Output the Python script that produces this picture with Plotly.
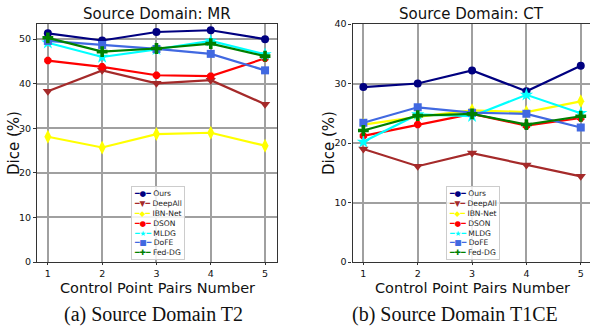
import plotly.graph_objects as go

x_vals = [1, 2, 3, 4, 5]
methods = ["Ours", "DeepAll", "IBN-Net", "DSON", "MLDG", "DoFE", "Fed-DG"]

mr_values = {
    "Ours":    [51.3, 49.7, 51.6, 52.0, 50.0],
    "DeepAll": [38.3, 43.0, 40.1, 40.8, 35.4],
    "IBN-Net": [28.1, 25.7, 28.7, 29.0, 26.1],
    "DSON":    [45.2, 43.8, 41.9, 41.7, 45.7],
    "MLDG":    [49.2, 46.0, 47.7, 49.6, 46.6],
    "DoFE":    [49.6, 48.7, 47.8, 46.7, 43.0],
    "Fed-DG":  [50.3, 47.2, 47.9, 49.0, 46.2],
}
ct_values = {
    "Ours":    [29.4, 30.0, 32.2, 28.7, 33.0],
    "DeepAll": [19.0, 16.1, 18.3, 16.3, 14.4],
    "IBN-Net": [23.1, 24.4, 25.5, 25.2, 27.0],
    "DSON":    [21.2, 23.1, 24.9, 22.9, 24.2],
    "MLDG":    [20.2, 24.8, 24.5, 28.1, 25.0],
    "DoFE":    [23.4, 26.0, 25.1, 24.9, 22.6],
    "Fed-DG":  [22.1, 24.6, 24.9, 23.1, 24.5],
}

colors = {
    "Ours": "#000080", "DeepAll": "#A52A2A", "IBN-Net": "#FFFF00", "DSON": "#FF0000",
    "MLDG": "#00FFFF", "DoFE": "#4169E1", "Fed-DG": "#008000",
}
symbols = {
    "Ours": "circle", "DeepAll": "triangle-down", "IBN-Net": "diamond-tall", "DSON": "octagon",
    "MLDG": "star", "DoFE": "square", "Fed-DG": "cross",
}
glyphs = {
    "Ours": "●", "DeepAll": "▼", "IBN-Net": "◆", "DSON": "●",
    "MLDG": "★", "DoFE": "■", "Fed-DG": "✚",
}
msize = {"Ours": 8, "DeepAll": 9, "IBN-Net": 10, "DSON": 8, "MLDG": 10, "DoFE": 8, "Fed-DG": 9}

FONT = "DejaVu Sans"
fig = go.Figure()

for m in methods:
    for vals, xa, ya in [(mr_values, "x", "y"), (ct_values, "x2", "y2")]:
        fig.add_trace(go.Scatter(
            x=x_vals, y=vals[m], mode="lines+markers", name=m,
            xaxis=xa, yaxis=ya, showlegend=False,
            line=dict(color=colors[m], width=2.2),
            marker=dict(color=colors[m], symbol=symbols[m], size=msize[m],
                        line=dict(width=0)),
        ))

W, H = 590, 329
def px_x(p):
    return p / W
def px_y(p):
    return 1 - p / H

grid = "#a0a0a0"
axis_common = dict(
    showgrid=True, gridcolor=grid, gridwidth=1.5,
    showline=True, linecolor="#333333", linewidth=1.2, mirror=True,
    ticks="outside", tickcolor="#333333",
    tickfont=dict(family=FONT, size=9.5, color="#111111"),
    zeroline=False, automargin=False,
)

fig.update_layout(
    width=W, height=H, margin=dict(l=0, r=0, t=0, b=0, autoexpand=False),
    paper_bgcolor="white", plot_bgcolor="white",
    font=dict(family=FONT, color="#111111"),
    xaxis=dict(domain=[px_x(37), px_x(277)], range=[0.8, 5.22], tickvals=x_vals,
               ticklen=2, anchor="y", **axis_common),
    yaxis=dict(domain=[px_y(262), px_y(24)], range=[0, 53.4], tickvals=[0, 10, 20, 30, 40, 50],
               ticklen=3, anchor="x", **axis_common),
    xaxis2=dict(domain=[px_x(352.5), 1.0], range=[0.8, 5.17], tickvals=x_vals,
                ticklen=2, anchor="y2", **axis_common),
    yaxis2=dict(domain=[px_y(262), px_y(24)], range=[0, 40], tickvals=[0, 10, 20, 30, 40],
                ticklen=3, anchor="x2", **axis_common),
)

def legend_text():
    lines = []
    for m in methods:
        lines.append(f'<span style="color:{colors[m]}">━{glyphs[m]}━</span> {m}')
    return "<br>".join(lines)

def ann(text, x, y, size, family=FONT, angle=0):
    return dict(text=text, x=px_x(x), y=px_y(y), xref="paper", yref="paper",
                xanchor="center", yanchor="middle", showarrow=False, textangle=angle,
                font=dict(family=family, size=size, color="#111111"))

annotations = [
    ann("Source Domain: MR", 157, 14, 15),
    ann("Source Domain: CT", 471, 14, 15),
    ann("Control Point Pairs Number", 157, 288, 14.5),
    ann("Control Point Pairs Number", 472, 288, 14.5),
    ann("Dice (%)", 14, 143, 15, angle=-90),
    ann("Dice (%)", 329, 143, 15, angle=-90),
    ann("(a) Source Domain T2", 153, 314, 20, "Liberation Serif"),
    ann("(b) Source Domain T1CE", 455, 314, 20, "Liberation Serif"),
]
for lx in (131, 446):
    annotations.append(dict(
        text=legend_text(), x=px_x(lx), y=px_y(186), xref="paper", yref="paper",
        xanchor="left", yanchor="top", align="left", showarrow=False,
        font=dict(family=FONT, size=7.6, color="#222222"),
        bgcolor="rgba(255,255,255,0.85)", bordercolor="#cccccc", borderwidth=1, borderpad=2,
    ))
fig.update_layout(annotations=annotations)

fig.write_html("out.html")
